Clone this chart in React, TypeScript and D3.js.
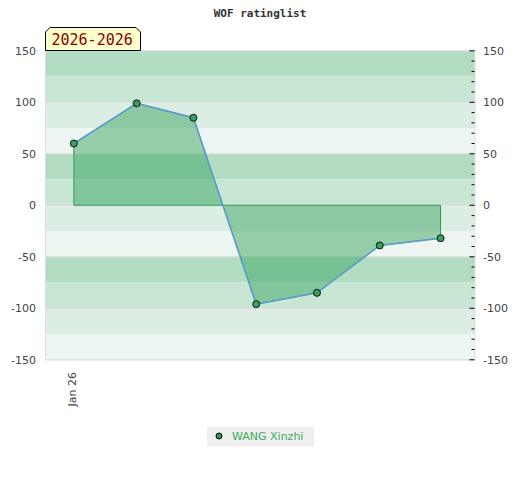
import * as d3 from "d3";

const title = "WOF ratinglist";
const seasonLabel = "2026-2026";
const playerName = "WANG Xinzhi";

// monthly rating change, one point per month
const dates = ["2026-01-01", "2026-02-01", "2026-03-01", "2026-04-01", "2026-05-01", "2026-06-01", "2026-07-01"];
const values = [60, 99, 85, -96, -85, -39, -32];

const xTickDates = ["2026-01-01"];
const xTickLabels = ["Jan 26"];
const yMajorTicks = [150, 100, 50, 0, -50, -100, -150];
const yMinorTicks = d3.range(-150, 151, 10);
const bandStarts = d3.range(150, -150, -25);
const bandColors = ["#b3ddc3", "#c8e6d4", "#dcede3", "#eef6f1"];

const W = 520;
const H = 480;
const left = 45.5;
const right = 475;
const top = 50.8;
const bottom = 359.8;

const parse = d3.utcParse("%Y-%m-%d");

export default function App() {
  const points = dates.map((d, i) => ({ date: parse(d)!, value: values[i] }));

  const x = d3
    .scaleUtc()
    .domain([parse("2025-12-18")!, parse("2026-07-18")!])
    .range([left, right]);
  const y = d3.scaleLinear().domain([-150, 150]).range([bottom, top]);

  const area = d3
    .area<{ date: Date; value: number }>()
    .x((d) => x(d.date))
    .y0(y(0))
    .y1((d) => y(d.value));
  const line = d3
    .line<{ date: Date; value: number }>()
    .x((d) => x(d.date))
    .y((d) => y(d.value));

  const font = "'DejaVu Sans', Verdana, sans-serif";

  return (
    <svg width={W} height={H} style={{ position: "absolute", left: 0, top: 0 }}>
      <rect width={W} height={H} fill="#fff" />
      <text x={260} y={17} textAnchor="middle" fontFamily="'DejaVu Sans Mono', monospace" fontWeight="bold" fontSize={11} fill="#333">
        {title}
      </text>

      {/* background bands */}
      {bandStarts.map((v, i) => (
        <rect
          key={v}
          x={left}
          y={y(v)}
          width={right - left}
          height={y(v - 25) - y(v)}
          fill={bandColors[i % 4]}
        />
      ))}
      {yMajorTicks.map((v) => (
        <line key={v} x1={left} x2={right} y1={y(v)} y2={y(v)} stroke="#dddddd" strokeWidth={1} />
      ))}
      <rect x={left} y={top} width={right - left} height={bottom - top} fill="none" stroke="#dddddd" />

      {/* right side ticks */}
      {yMinorTicks.map((v) => (
        <line
          key={v}
          x1={v % 50 === 0 ? right - 5.5 : right - 3.5}
          x2={right - 0.5}
          y1={y(v)}
          y2={y(v)}
          stroke="#000"
          strokeWidth={1}
        />
      ))}

      {yMajorTicks.map((v) => (
        <g key={v} fontFamily={font} fontSize={11} fill="#444">
          <text x={36} y={y(v)} dy="0.35em" textAnchor="end">
            {v}
          </text>
          <text x={483} y={y(v)} dy="0.35em">
            {v}
          </text>
        </g>
      ))}

      {xTickDates.map((d, i) => (
        <text
          key={d}
          transform={`translate(${x(parse(d)!)},372) rotate(-90)`}
          dy="0.22em"
          textAnchor="end"
          fontFamily={font}
          fontSize={11}
          fill="#444"
        >
          {xTickLabels[i]}
        </text>
      ))}

      {/* data */}
      <path d={area(points)!} fill="rgb(59,166,98)" fillOpacity={0.5} stroke="#3a9a5a" strokeWidth={1} />
      <path d={line(points)!} fill="none" stroke="#5b9bd5" strokeWidth={1.5} />
      {points.map((p, i) => (
        <circle key={i} cx={x(p.date)} cy={y(p.value)} r={3.5} fill="#3aa05e" stroke="#111" strokeWidth={1} />
      ))}

      {/* season label */}
      <path d={`M${left},50.5 V32 L50,27.5 H136 L140.5,32 V50.5 Z`} fill="#ffffcc" stroke="#000" strokeWidth={1} />
      <text x={51.5} y={45} fontFamily="'DejaVu Sans Mono', monospace" fontSize={15} fill="#8b0000">
        {seasonLabel}
      </text>

      {/* legend */}
      <rect x={207} y={426.5} width={107} height={20} fill="#efefef" />
      <circle cx={219} cy={436} r={3} fill="#2e9a4f" stroke="#000" strokeWidth={1} />
      <text x={232} y={440} fontFamily={font} fontSize={11} fill="#3cac5e">
        {playerName}
      </text>
    </svg>
  );
}
